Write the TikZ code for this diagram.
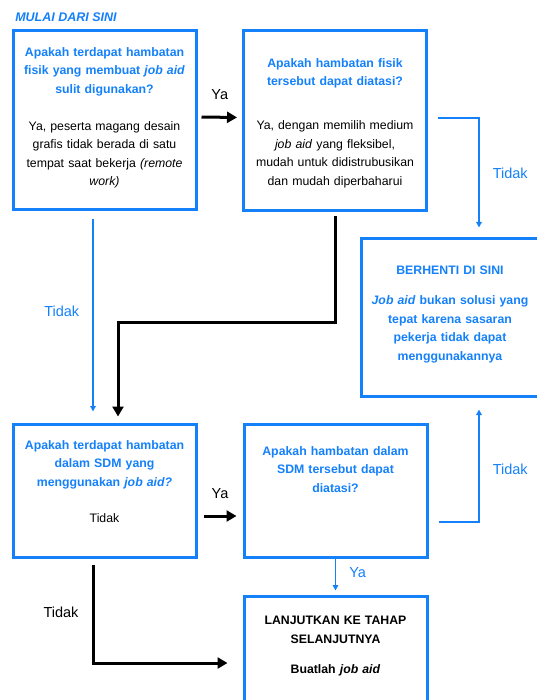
\documentclass[tikz,border=0pt]{standalone}
\usepackage{fontspec}
\setmainfont{Liberation Sans}
\usetikzlibrary{arrows.meta}
\usetikzlibrary{positioning}
\definecolor{blue1}{RGB}{20, 128, 250}

\tikzset{
  box/.style={draw=blue1, line width=3pt, minimum width=183pt, inner sep=0pt},
  boxtext/.style={text width=180pt, align=center, inner sep=0pt, anchor=north, font=\fontsize{12.3}{18.5}\selectfont},
  lbl/.style={inner sep=0pt, font=\fontsize{14.5}{17}\selectfont},
  flow/.style={line width=3pt, >={Triangle[length=10pt,width=11pt]}},
  blueflow/.style={color=blue1, line width=1.5pt, >={Triangle[length=5.5pt,width=5.5pt]}}
}

\begin{document}
\begin{tikzpicture}[x=1pt, y=-1pt]
  \clip (0,0) rectangle (537,700);
  \node[font=\fontsize{12.5}{15}\selectfont\bfseries\itshape, text=blue1] (start) at (66,17) {MULAI DARI SINI};

  \node[box, minimum height=179pt] (q1) at (104.5,120.5) {};
  \node[box, minimum height=180pt] (q2) at (335,121) {};
  \node[box, minimum width=178pt, minimum height=157pt] (q3) at (450,317.5) {};
  \node[box, minimum height=133pt] (q4) at (104.5,490.5) {};
  \node[box, minimum height=133pt] (q5) at (335.5,490.5) {};
  \node[box, minimum height=118pt] (q6) at (335.5,655) {};

  \node[boxtext, below=17.5pt of q1.north] (q1t) {\textcolor{blue1}{\bfseries Apakah terdapat hambatan\\ fisik yang membuat \textit{job aid}\\ sulit digunakan?}\\[18.5pt]
    Ya, peserta magang desain\\ grafis tidak berada di satu\\ tempat saat bekerja \textit{(remote}\\ \textit{work)}};
  \node[boxtext, below=28.5pt of q2.north] (q2t) {\textcolor{blue1}{\bfseries Apakah hambatan fisik\\ tersebut dapat diatasi?}\\[25.5pt]
    Ya, dengan memilih medium\\ \textit{job aid} yang fleksibel,\\ mudah untuk didistrubusikan\\ dan mudah diperbaharui};
  \node[boxtext, below=28.5pt of q3.north, text=blue1, font=\fontsize{12.3}{18.5}\selectfont\bfseries] (q3t) {BERHENTI DI SINI\\[11.5pt]
    \textit{Job aid} bukan solusi yang\\ tepat karena sasaran\\ pekerja tidak dapat\\ menggunakannya};
  \node[boxtext, below=17.5pt of q4.north] (q4t) {\textcolor{blue1}{\bfseries Apakah terdapat hambatan\\ dalam SDM yang\\ menggunakan \textit{job aid?}}\\[17.5pt]
    Tidak};
  \node[boxtext, below=23.5pt of q5.north, text=blue1, font=\fontsize{12.3}{18.5}\selectfont\bfseries] (q5t) {Apakah hambatan dalam\\ SDM tersebut dapat\\ diatasi?};
  \node[boxtext, below=21.5pt of q6.north, font=\fontsize{12.3}{18.5}\selectfont\bfseries] (q6t) {LANJUTKAN KE TAHAP\\ SELANJUTNYA\\[11.5pt]
    Buatlah \textit{job aid}};

  \coordinate (turn) at (118,322);

  \draw[flow,->,shorten <=4pt,shorten >=5pt] ([yshift=3.5pt]q1.east) -- ([yshift=3.5pt]q2.west)
    node[lbl,midway,above=16pt] (ya1) {Ya};
  \draw[blueflow,->,shorten <=8pt,shorten >=11pt] ([xshift=-11.5pt]q1.south) -- ([xshift=-11.5pt]q4.north)
    node[lbl,midway,left=13pt,yshift=6pt,text=blue1] (no1) {Tidak};
  \draw[flow,->,shorten <=4pt,shorten >=6pt] (q2.south) |- (turn) -- ([xshift=13.5pt]q4.north);
  \draw[blueflow,->,shorten <=10pt,shorten >=10pt] ([yshift=3pt]q2.east) -| ([xshift=29pt]q3.north)
    node[lbl,pos=0.75,right=13pt,yshift=4.5pt,text=blue1] (no2) {Tidak};
  \draw[blueflow,->,shorten <=10pt,shorten >=12pt] ([yshift=-31.5pt]q5.east) -| ([xshift=29pt]q3.south)
    node[lbl,pos=0.75,right=13pt,yshift=-10pt,text=blue1] (no3) {Tidak};
  \draw[flow,->,shorten <=6pt,shorten >=6pt] ([yshift=-25.5pt]q4.east) -- ([yshift=-25.5pt]q5.west)
    node[lbl,midway,above=16pt] (ya2) {Ya};
  \draw[blueflow,->,shorten >=4pt] (q5.south) -- (q6.north)
    node[lbl,midway,right=13pt,yshift=3.5pt,text=blue1] (ya3) {Ya};
  \draw[flow,->,shorten <=6pt,shorten >=15pt] ([xshift=-11.5pt]q4.south) |- ([yshift=-8pt]q6.west)
    node[lbl,pos=0.25,left=13pt,yshift=-2pt] (no4) {Tidak};
\end{tikzpicture}
\end{document}
